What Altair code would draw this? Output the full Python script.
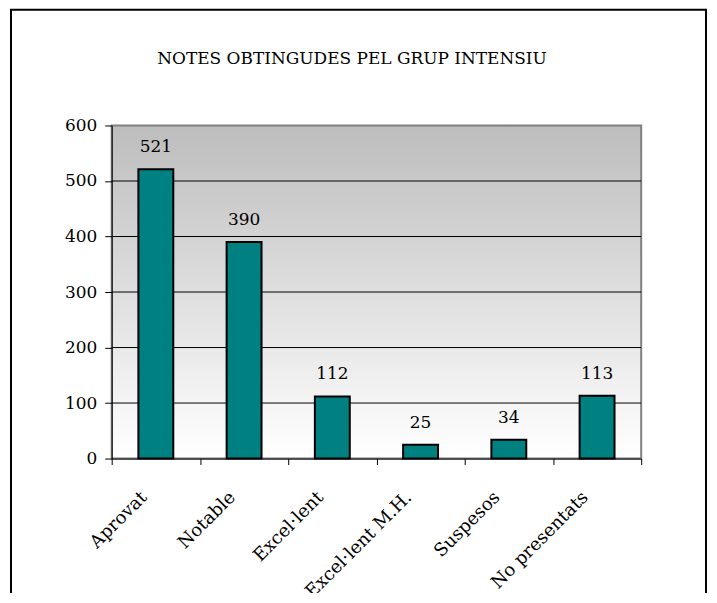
import altair as alt
import pandas as pd

categories = ["Aprovat", "Notable", "Excel·lent", "Excel·lent M.H.", "Suspesos", "No presentats"]
values = [521, 390, 112, 25, 34, 113]
y_ticks = [0, 100, 200, 300, 400, 500, 600]
grid_values = [100, 200, 300, 400, 500]
title_text = "NOTES OBTINGUDES PEL GRUP INTENSIU"

df = pd.DataFrame({"cat": categories, "val": values})
FONT = "DejaVu Serif"

W, H = 531, 334

x_axis = alt.Axis(
    title=None, labelAngle=-45, labelAlign="right", labelBaseline="middle",
    labelFont=FONT, labelFontSize=18, labelColor="black", labelPadding=30,
    labelOffset=-12, tickBand="extent", tickSize=6, tickColor="black",
    domainColor="black", domainWidth=1, zindex=1, labelOverlap=False,
    labelLimit=400,
)
x_enc = alt.X("cat:N", sort=categories,
              scale=alt.Scale(paddingInner=0, paddingOuter=0), axis=x_axis)

y_scale = alt.Scale(domain=[0, 600], nice=False)
y_axis = alt.Axis(
    title=None, values=y_ticks, grid=False, labelFont=FONT, labelFontSize=17,
    labelColor="black", tickSize=7, tickColor="black", labelPadding=8,
    domainColor="black", domainWidth=1, zindex=1,
)

gradient = alt.LinearGradient(
    gradient="linear",
    stops=[alt.GradientStop(color="#bdbdbd", offset=0),
           alt.GradientStop(color="#ffffff", offset=1)],
    x1=0, x2=0, y1=0, y2=1,
)

frame = alt.Chart(alt.Data(values=[{}])).mark_rect(
    fill="white", fillOpacity=0, stroke="black", strokeWidth=2
).encode(x=alt.value(-101), x2=alt.value(596), y=alt.value(-116), y2=alt.value(530))

bg = alt.Chart(alt.Data(values=[{}])).mark_rect(
    fill=gradient, stroke="#808080", strokeWidth=2
).encode(x=alt.value(0), x2=alt.value("width"), y=alt.value(0), y2=alt.value("height"))

grid = alt.Chart(pd.DataFrame({"val": grid_values})).mark_rule(
    color="black", strokeWidth=1
).encode(y=alt.Y("val:Q", scale=y_scale, axis=y_axis), x=alt.value(0), x2=alt.value("width"))

bars = alt.Chart(df).mark_bar(
    size=35, color="#008080", stroke="black", strokeWidth=2
).encode(x=x_enc, y=alt.Y("val:Q", scale=y_scale, axis=y_axis))

labels = alt.Chart(df).mark_text(
    font=FONT, fontSize=17, color="black", baseline="alphabetic", dy=-17
).encode(x=x_enc, y=alt.Y("val:Q", scale=y_scale, axis=y_axis), text="val:Q")

title = alt.Chart(alt.Data(values=[{"t": title_text}])).mark_text(
    font=FONT, fontSize=17, color="black", baseline="alphabetic", align="center"
).encode(x=alt.value(241), y=alt.value(-62), text="t:N")

chart = alt.layer(frame, bg, grid, bars, labels, title).properties(
    width=W, height=H,
    autosize=alt.AutoSizeParams(type="none"),
    padding={"left": 104, "top": 117, "right": 68, "bottom": 134},
).configure_view(stroke=None)

chart.save("out.html", embed_options={"renderer": "svg", "actions": False})
